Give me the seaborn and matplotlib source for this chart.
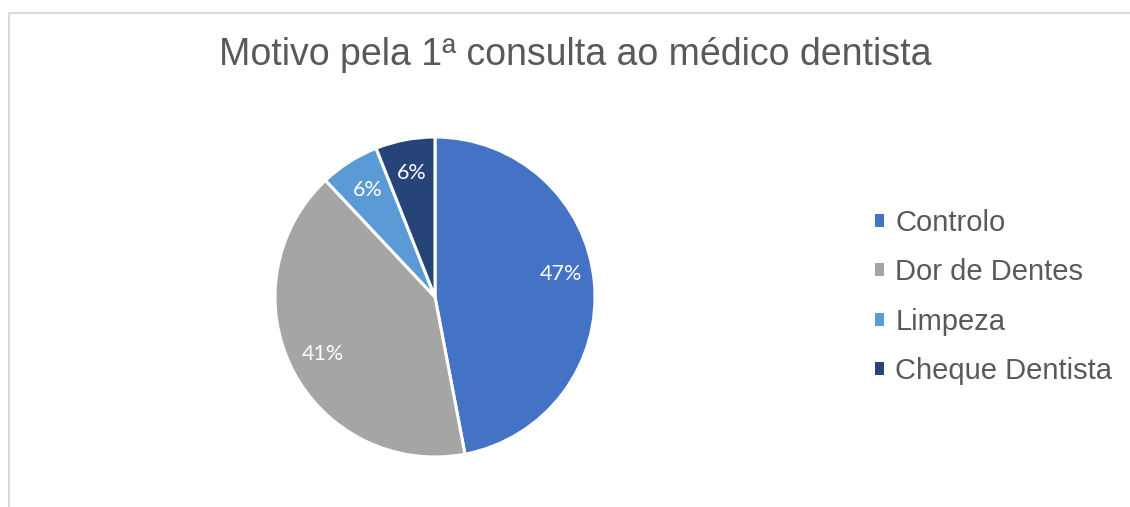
import matplotlib
matplotlib.use("Agg")
import matplotlib.pyplot as plt
import matplotlib.patches as mpatches
import seaborn as sns

sns.set_theme(style="white")
plt.rcParams["font.family"] = ["Liberation Sans", "DejaVu Sans"]

# ── data ──────────────────────────────────────────────────────────────
categories = ["Controlo", "Dor de Dentes", "Limpeza", "Cheque Dentista"]
percent = [47, 41, 6, 6]
colors = sns.color_palette(["#4472C4", "#A5A5A5", "#5B9BD5", "#264478"])

W, H = 1130, 507
fig = plt.figure(figsize=(W / 100, H / 100), dpi=100)
fig.patch.set_facecolor("white")

# chart frame (only left/top visible in the crop)
frame = mpatches.Rectangle((8.5 / W, -0.1), 1.2, (H - 12.5) / H + 0.1,
                           transform=fig.transFigure, fill=False,
                           edgecolor="#D9D9D9", linewidth=1.5)
fig.patches.append(frame)

# pie: center (435, 297), radius 160 px
cx, cy, r = 435, 297, 160
ax = fig.add_axes([(cx - r) / W, (H - cy - r) / H, 2 * r / W, 2 * r / H])
wedges, _, autotexts = ax.pie(
    percent, colors=colors, startangle=90, counterclock=False,
    autopct=lambda p: f"{p:.0f}%", pctdistance=0.79,
    wedgeprops=dict(edgecolor="white", linewidth=2.2, clip_on=False),
    textprops=dict(color="white", fontsize=15.5, family=["Lato", "DejaVu Sans"]),
)
# Excel nudges the big slice label a bit upward
autotexts[0].set_y(autotexts[0].get_position()[1] + 0.07)
ax.set_xlim(-1, 1)
ax.set_ylim(-1, 1)
ax.set_aspect("equal")
ax.axis("off")

fig.text(575 / W, 1 - 55 / H, "Motivo pela 1ª consulta ao médico dentista",
         ha="center", va="center", fontsize=27, color="#595959")

leg = fig.legend(wedges, categories, loc="center left",
                 bbox_to_anchor=(875 / W, 1 - 297 / H),
                 frameon=False, fontsize=21, labelcolor="#595959",
                 handlelength=0.32, handleheight=0.32, handletextpad=0.38,
                 labelspacing=0.74, borderpad=0, borderaxespad=0)
for h in leg.legend_handles:
    h.set_edgecolor("none")

fig.savefig("out.png", dpi=100)
